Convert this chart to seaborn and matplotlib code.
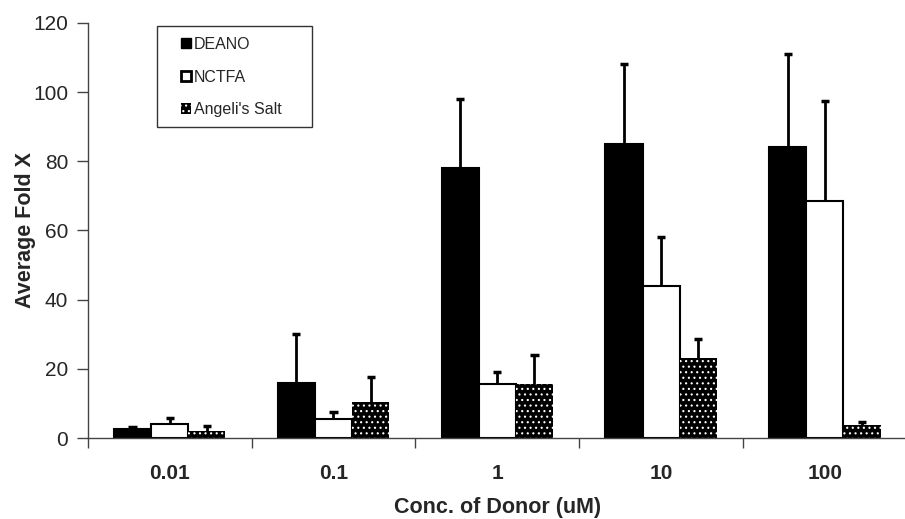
import numpy as np
import pandas as pd
import matplotlib
matplotlib.use("Agg")
import matplotlib.pyplot as plt
from matplotlib.patches import Patch, Rectangle
import seaborn as sns

concs = ["0.01", "0.1", "1", "10", "100"]
donors = ["DEANO", "NCTFA", "Angeli's Salt"]
deano = [2.5, 16, 78, 85, 84]
deano_err = [0.8, 14, 20, 23, 27]
nctfa = [4, 5.5, 15.5, 44, 68.5]
nctfa_err = [1.7, 2, 3.5, 14, 29]
angeli = [2, 10.5, 15.5, 23, 3.8]
angeli_err = [1.5, 7, 8.5, 5.5, 0.8]

means = {"DEANO": deano, "NCTFA": nctfa, "Angeli's Salt": angeli}
errs = {"DEANO": deano_err, "NCTFA": nctfa_err, "Angeli's Salt": angeli_err}

df = pd.DataFrame({
    "conc": concs * 3,
    "donor": np.repeat(donors, len(concs)),
    "fold": deano + nctfa + angeli,
})

sns.set_style("white")
plt.rcParams["font.family"] = ["Liberation Sans", "DejaVu Sans"]
plt.rcParams["hatch.linewidth"] = 0.8

fig = plt.figure(figsize=(9.05, 5.19), dpi=100)
ax = fig.add_axes([0.097, 0.156, 0.905, 0.800])

sns.barplot(data=df, x="conc", y="fold", hue="donor", order=concs,
            hue_order=donors, errorbar=None, width=0.68, ax=ax,
            palette=["black", "white", "black"], legend=False)

styles = [dict(fc="black", ec="black", hatch=None, lw=1.5),
          dict(fc="white", ec="black", hatch=None, lw=1.5),
          dict(fc="black", ec="white", hatch="...", lw=0)]
for cont, st, d in zip(ax.containers, styles, donors):
    for p in cont.patches:
        p.set_facecolor(st["fc"])
        p.set_edgecolor(st["ec"])
        p.set_linewidth(st["lw"])
        if st["hatch"]:
            p.set_hatch(st["hatch"])
    xs = np.array([p.get_x() + p.get_width() / 2 for p in cont.patches])
    tops = np.array(means[d]) + np.array(errs[d])
    # upper whisker only, cap on top
    ax.vlines(xs, means[d], tops, color="black", lw=2, zorder=3)
    ax.hlines(tops, xs - 0.025, xs + 0.025, color="black", lw=2.5, zorder=3)

ax.set_ylim(0, 120)
ax.set_xlim(-0.5, 4.5)
ax.set_yticks(range(0, 121, 20))
ax.tick_params(axis="y", labelsize=15, direction="out", length=8, width=1,
               color="#444444", left=True, pad=6)

ax.set_xticks(np.arange(-0.5, 5, 1))
ax.set_xticklabels([])
ax.tick_params(axis="x", which="major", direction="out", length=7, width=1,
               color="#444444", bottom=True)
ax.set_xticks(range(5), minor=True)
ax.set_xticklabels(concs, minor=True, fontweight="bold", fontsize=15)
ax.tick_params(axis="x", which="minor", length=0, pad=19)

for s in ["top", "right"]:
    ax.spines[s].set_visible(False)
for s in ["left", "bottom"]:
    ax.spines[s].set_color("#444444")
    ax.spines[s].set_linewidth(1)

ax.set_xlabel("Conc. of Donor (uM)", fontsize=15.5, fontweight="bold", labelpad=10)
ax.set_ylabel("Average Fold X", fontsize=15.5, fontweight="bold", labelpad=-2)

leg_handles = [Patch(facecolor="black", edgecolor="black", lw=1),
               Patch(facecolor="white", edgecolor="black", lw=2),
               Patch(facecolor="black", edgecolor="white", hatch="...", lw=0)]
leg = ax.legend(leg_handles, donors, loc="upper left",
                bbox_to_anchor=(181 / 905, 1 - 37 / 519),
                bbox_transform=fig.transFigure, fontsize=11.5, frameon=False,
                handlelength=0.6, handleheight=0.6, handletextpad=0.2,
                labelspacing=1.1, borderpad=0, borderaxespad=0)
for t in leg.get_texts():
    t.set_x(0)
fig.patches.append(Rectangle((157 / 905, 1 - 127 / 519), 155 / 905, 101 / 519,
                             transform=fig.transFigure, fill=False,
                             ec="#333333", lw=1))

fig.savefig("out.png", dpi=100)
